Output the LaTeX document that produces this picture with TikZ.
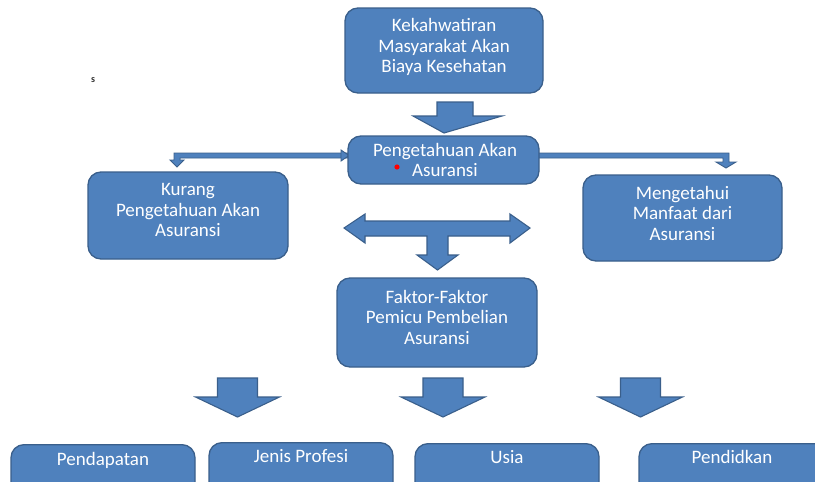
\documentclass[tikz,border=0pt]{standalone}
\usepackage{fontspec}
\setmainfont{Carlito}
\definecolor{boxfill}{HTML}{4F81BD}
\definecolor{boxline}{HTML}{3A5F8B}
\begin{document}
\begin{tikzpicture}[x=1pt,y=-1pt,
  blk/.style={draw=boxline,line width=1.3pt,fill=boxfill,rounded corners=13pt,
    text=white,align=center,font=\fontsize{19}{20.5}\selectfont,inner sep=0pt},
  blkarrow/.style={draw=boxline,line width=1.1pt,fill=boxfill,line join=miter},
  txt/.style={text=white,align=center,font=\fontsize{19}{20.5}\selectfont},
  lbl/.style={text=white,font=\fontsize{19}{20.5}\selectfont,anchor=north,inner sep=0pt}]
\useasboundingbox (0,0) rectangle (815,482);
\clip (0,0) rectangle (815,482);
\fill[white] (0,0) rectangle (815,482);

% small stray text
\node[font=\fontsize{10}{11}\selectfont\bfseries,inner sep=0pt,text=black!80] (s) at (93,80) {s};

% main boxes
\node[blk,minimum width=198,minimum height=85] (top) at (444,50.5) {};
\node[txt] (toptxt) at (444,47) {Kekahwatiran\\Masyarakat Akan\\Biaya Kesehatan};

% block arrow top -> peng
\draw[blkarrow] (437,102) -- (473,102) -- (473,116) -- (502,116) -- (444,133) -- (413,116) -- (437,116) -- cycle;

% bent connector left (drawn before box)
\draw[blkarrow,line width=0.9pt] (352,153) -- (174,153) -- (174,160) -- (170,160) -- (177,167) -- (184,160) -- (180,160) -- (180,158) -- (352,158) -- cycle;
\draw[blkarrow,line width=0.9pt] (341,150) -- (349,155.5) -- (341,161) -- cycle;
% bent connector right
\draw[blkarrow,line width=0.9pt] (535,153) -- (729,153) -- (729,162) -- (736,162) -- (726,168) -- (716,162) -- (723,162) -- (723,158) -- (535,158) -- cycle;

\node[blk,minimum width=191,minimum height=48] (peng) at (443.5,160) {};
\node[txt] (pengtxt) at (445,160) {Pengetahuan Akan\\Asuransi};
\fill[red] (397,167) circle (2.6);

\node[blk,minimum width=200,minimum height=87] (kurang) at (188,215.5) {};
\node[txt] (kurangtxt) at (188,210) {Kurang\\Pengetahuan Akan\\Asuransi};

\node[blk,minimum width=199,minimum height=86] (meng) at (682.5,218) {};
\node[txt] (mengtxt) at (682.5,213) {Mengetahui\\Manfaat dari\\Asuransi};

% double arrow with down branch
\draw[blkarrow] (344,228) -- (365,214) -- (365,221) -- (510,221) -- (510,214) -- (530,228) -- (510,243) -- (510,236)
  -- (448,236) -- (448,255) -- (458,255) -- (437.5,270) -- (417,255) -- (427,255) -- (427,236)
  -- (365,236) -- (365,243) -- cycle;

\node[blk,minimum width=200,minimum height=89] (faktor) at (437,322.5) {};
\node[txt] (faktortxt) at (437,317) {Faktor-Faktor\\Pemicu Pembelian\\Asuransi};

% bottom block arrows
\foreach \cx/\nm in {237.5/a1,443/a2,640.5/a3}{
  \draw[blkarrow] (\cx-20,378) -- (\cx+20,378) -- (\cx+20,397) -- (\cx+42,397) -- (\cx,417) -- (\cx-42,397) -- (\cx-20,397) -- cycle;
}

% bottom boxes
\node[blk,minimum width=184,minimum height=70,anchor=north] (pend) at (103,444) {};
\node[lbl] (pendtxt) at (103,452) {Pendapatan};
\node[blk,minimum width=184,minimum height=70,anchor=north] (jenis) at (301,442) {};
\node[lbl] (jenistxt) at (301,449) {Jenis Profesi};
\node[blk,minimum width=184,minimum height=70,anchor=north] (usia) at (507,443) {};
\node[lbl] (usiatxt) at (507,450) {Usia};
\node[blk,minimum width=190,minimum height=70,anchor=north] (pendi) at (734,443) {};
\node[lbl] (penditxt) at (732,450) {Pendidkan};
\end{tikzpicture}
\end{document}
